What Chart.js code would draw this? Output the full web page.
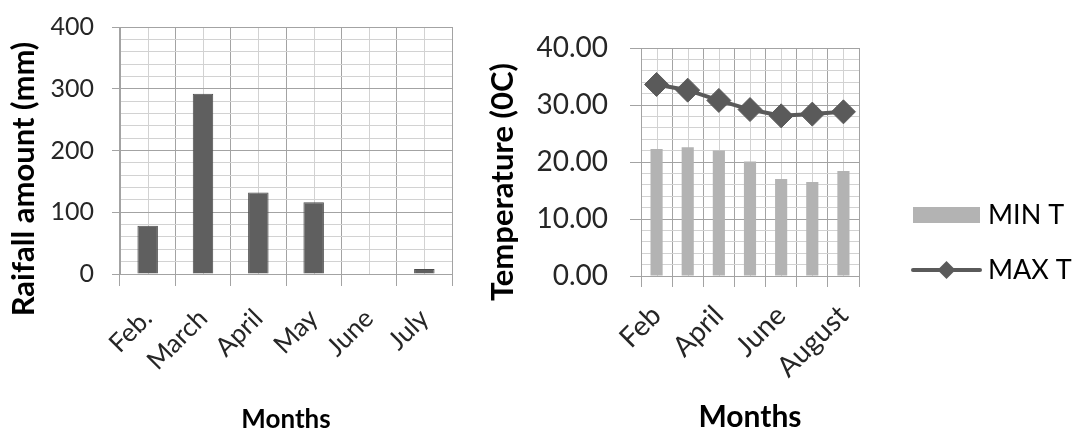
<!DOCTYPE html>
<html>
<head>
<meta charset="utf-8">
<script src="https://cdn.jsdelivr.net/npm/chart.js@4/dist/chart.umd.min.js"></script>
<style>
  html, body { margin: 0; padding: 0; background: #fff; }
  #wrap { position: relative; width: 1082px; height: 431px; overflow: hidden; }
  canvas { position: absolute; top: 0; }
  #rain { left: 0; }
  #temp { left: 470px; }
</style>
</head>
<body>
<div id="wrap">
  <canvas id="rain" width="470" height="431"></canvas>
  <canvas id="temp" width="612" height="431"></canvas>
</div>
<script>
// Monthly rainfall (mm)
const rainMonths = ['Feb.', 'March', 'April', 'May', 'June', 'July'];
const rainfall = [78, 292, 132, 116, 0, 8];
const rainAxisLabels = [0, 100, 200, 300, 400];

// Monthly temperature (0C)
const tempMonths = ['Feb', 'March', 'April', 'May', 'June', 'July', 'August'];
const minT = [22.3, 22.6, 22.0, 20.1, 17.0, 16.5, 18.4];
const maxT = [33.6, 32.6, 30.8, 29.2, 28.1, 28.4, 28.8];
const tempAxisLabels = ['0.00', '10.00', '20.00', '30.00', '40.00'];

const MAJOR = '#a3a3a3';
const MINOR = '#d2d2d2';
const TEXT = '#262626';

Chart.defaults.font.family = 'Lato, "Open Sans", sans-serif';
Chart.defaults.color = TEXT;

// keep the plot box where the layout padding puts it
function fixPadding(s) {
  s.paddingTop = 0;
  s.paddingBottom = 0;
  s.paddingLeft = 0;
  s.paddingRight = 0;
}

// light vertical lines through each category centre, under the main grid
const minorVerticals = {
  id: 'minorVerticals',
  beforeDraw(chart) {
    const { ctx, chartArea: { top, bottom }, scales: { x } } = chart;
    ctx.save();
    ctx.strokeStyle = MINOR;
    ctx.lineWidth = 1;
    chart.data.labels.forEach((_, i) => {
      const px = Math.round(x.getPixelForValue(i)) + 0.5;
      ctx.beginPath();
      ctx.moveTo(px, top);
      ctx.lineTo(px, bottom);
      ctx.stroke();
    });
    ctx.restore();
  }
};

// rotated y-axis caption
const sideTitle = {
  id: 'sideTitle',
  afterDraw(chart, args, o) {
    const ctx = chart.ctx;
    ctx.save();
    ctx.translate(o.x, o.y);
    ctx.rotate(-Math.PI / 2);
    ctx.font = o.font;
    ctx.fillStyle = '#000';
    ctx.textAlign = 'center';
    ctx.textBaseline = 'middle';
    ctx.fillText(o.text, 0, 0);
    ctx.restore();
  }
};

// legend beside the temperature plot: bar swatch and line-with-diamond swatch
const sideLegend = {
  id: 'sideLegend',
  afterDraw(chart, args, o) {
    const ctx = chart.ctx;
    chart.data.datasets.forEach((ds, i) => {
      const y = o.y + i * o.gap;
      ctx.save();
      if (ds.type === 'line') {
        ctx.strokeStyle = ds.borderColor;
        ctx.lineWidth = ds.borderWidth;
        ctx.lineCap = 'round';
        ctx.beginPath();
        ctx.moveTo(o.x, y);
        ctx.lineTo(o.x + o.w, y);
        ctx.stroke();
        const cx = o.x + o.w / 2, r = o.pointR;
        ctx.fillStyle = ds.pointBackgroundColor;
        ctx.beginPath();
        ctx.moveTo(cx - r, y);
        ctx.lineTo(cx, y - r);
        ctx.lineTo(cx + r, y);
        ctx.lineTo(cx, y + r);
        ctx.closePath();
        ctx.fill();
      } else {
        ctx.fillStyle = ds.backgroundColor;
        ctx.fillRect(o.x, y - o.h / 2, o.w, o.h);
      }
      ctx.fillStyle = '#000';
      ctx.font = o.font;
      ctx.textAlign = 'left';
      ctx.textBaseline = 'middle';
      ctx.fillText(ds.label, o.x + o.w + o.pad, y);
      ctx.restore();
    });
  }
};

new Chart(document.getElementById('rain'), {
  type: 'bar',
  data: {
    labels: rainMonths,
    datasets: [{
      label: 'Rainfall',
      data: rainfall,
      backgroundColor: '#5f5f5f',
      borderColor: '#4d4d4d',
      borderWidth: 1,
      categoryPercentage: 1,
      barPercentage: 0.37
    }]
  },
  options: {
    responsive: false,
    devicePixelRatio: 1,
    animation: false,
    layout: { padding: { top: 27, right: 18, bottom: 0, left: 0 } },
    plugins: {
      legend: { display: false },
      tooltip: { enabled: false },
      sideTitle: { text: 'Raifall amount (mm)', x: 24, y: 179, font: 'bold 31px Lato' }
    },
    scales: {
      x: {
        grid: { offset: true, color: MAJOR, tickColor: MAJOR, tickLength: 12 },
        border: { color: MAJOR },
        ticks: { font: { size: 26 }, maxRotation: 45, minRotation: 45, padding: 17, color: TEXT },
        title: { display: true, text: 'Months', font: { size: 26, weight: 'bold' }, color: '#000', padding: { top: 0, bottom: -4 } },
        afterFit(s) { s.height = 157; fixPadding(s); }
      },
      y: {
        min: 0,
        max: 400,
        grid: {
          color: c => (rainAxisLabels.includes(c.tick.value) ? MAJOR : MINOR),
          tickColor: c => (rainAxisLabels.includes(c.tick.value) ? MAJOR : 'rgba(0,0,0,0)'),
          tickLength: 8
        },
        border: { color: MAJOR },
        ticks: {
          stepSize: 20,
          autoSkip: false,
          padding: 18,
          font: { size: 25 },
          color: TEXT,
          callback: v => (rainAxisLabels.includes(v) ? String(v) : '')
        },
        afterFit(s) { s.width = 120; fixPadding(s); }
      }
    }
  },
  plugins: [minorVerticals, sideTitle]
});

new Chart(document.getElementById('temp'), {
  data: {
    labels: tempMonths,
    datasets: [{
      type: 'bar',
      label: 'MIN T',
      data: minT,
      backgroundColor: '#b3b3b3',
      categoryPercentage: 1,
      barPercentage: 0.39,
      order: 2
    }, {
      type: 'line',
      label: 'MAX T',
      data: maxT,
      borderColor: '#5a5a5a',
      borderWidth: 4,
      pointStyle: 'rectRot',
      pointRadius: 12,
      pointBackgroundColor: '#5a5a5a',
      pointBorderColor: '#5a5a5a',
      pointBorderWidth: 1,
      tension: 0,
      order: 1
    }]
  },
  options: {
    responsive: false,
    devicePixelRatio: 1,
    animation: false,
    layout: { padding: { top: 48, right: 223, bottom: 0, left: 0 } },
    plugins: {
      legend: { display: false },
      tooltip: { enabled: false },
      sideTitle: { text: 'Temperature (0C)', x: 33, y: 182, font: 'bold 31px Lato' },
      sideLegend: { x: 443, y: 215, gap: 55, w: 67, h: 16, pad: 8, pointR: 9, font: '27px Lato' }
    },
    scales: {
      x: {
        grid: { offset: true, color: MAJOR, tickColor: MAJOR, tickLength: 11 },
        border: { color: MAJOR },
        ticks: {
          autoSkip: false,
          font: { size: 28 },
          maxRotation: 45,
          minRotation: 45,
          padding: 12,
          color: TEXT,
          callback(v, i) { return i % 2 === 0 ? this.getLabelForValue(v) : ''; }
        },
        title: { display: true, text: 'Months', font: { size: 30, weight: 'bold' }, color: '#000', padding: { top: 0, bottom: -4 } },
        afterFit(s) { s.height = 155; fixPadding(s); }
      },
      y: {
        min: 0,
        max: 40,
        grid: {
          color: c => (c.tick.value % 10 === 0 ? MAJOR : MINOR),
          tickColor: c => (c.tick.value % 10 === 0 ? MAJOR : 'rgba(0,0,0,0)'),
          tickLength: 11
        },
        border: { color: MAJOR },
        ticks: {
          stepSize: 2,
          autoSkip: false,
          padding: 22,
          font: { size: 28 },
          color: TEXT,
          callback: v => (v % 10 === 0 ? tempAxisLabels[v / 10] : '')
        },
        afterFit(s) { s.width = 171; fixPadding(s); }
      }
    }
  },
  plugins: [minorVerticals, sideTitle, sideLegend]
});
</script>
</body>
</html>
